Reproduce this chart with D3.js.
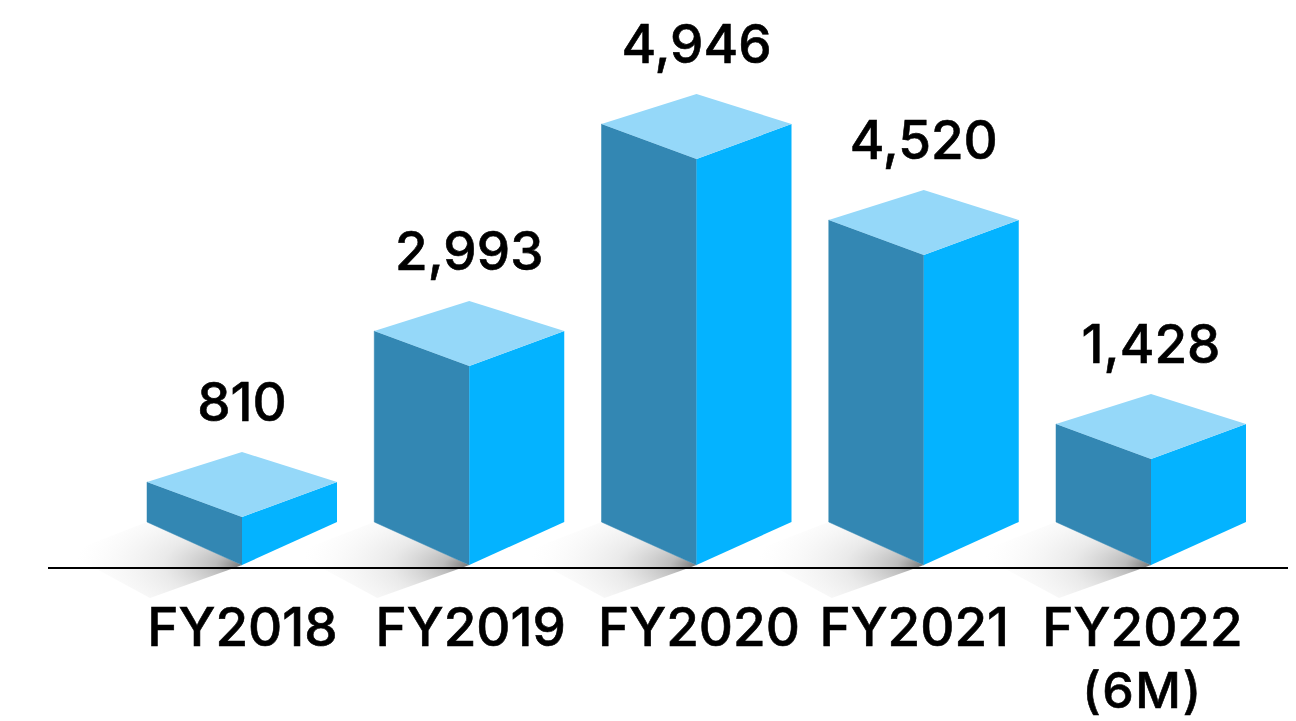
<!DOCTYPE html>
<html>
<head>
<meta charset="utf-8">
<style>
  html, body { margin: 0; padding: 0; background: #fff; }
  text { font-family: Inter, "Open Sans", sans-serif; fill: #000; }
</style>
<script src="https://cdn.jsdelivr.net/npm/d3@7"></script>
</head>
<body>
<div id="chart"></div>
<script>
// Data
const categories = ['FY2018', 'FY2019', 'FY2020', 'FY2021', 'FY2022'];
const subLabels = ['', '', '', '', '(6M)'];
const values = [810, 2993, 4946, 4520, 1428];
const valueLabels = ['810', '2,993', '4,946', '4,520', '1,428'];

const width = 1296;
const height = 721;
const baseY = 565;   // front bottom corner of every box
const halfW = 95;
const rise = 43;     // side corners sit this far above the front corner
const topDepth = 30; // back corner of the lid above the side corners

const svg = d3.select('#chart')
  .append('svg')
  .attr('width', width)
  .attr('height', height)
  .style('display', 'block');

const x = d3.scalePoint()
  .domain(categories)
  .range([242, 1151]);

// The drawn bars are not proportional in the source, so the scale has knots
const y = d3.scaleLinear()
  .domain([0, 810, 1428, 2993, 4520, 4946])
  .range([baseY, 517, 459, 366, 255, 159]);

const points = arr => arr.map(p => p.join(',')).join(' ');

// Shadow gradient, darkest right at the front corner of the box
const defs = svg.append('defs');
const grad = defs.append('radialGradient')
  .attr('id', 'shadow')
  .attr('cx', 1).attr('cy', 0.57)
  .attr('fx', 1).attr('fy', 0.57)
  .attr('r', 1);
grad.append('stop').attr('offset', 0).attr('stop-color', '#707070').attr('stop-opacity', 0.95);
grad.append('stop').attr('offset', 0.15).attr('stop-color', '#a0a0a0').attr('stop-opacity', 0.7);
grad.append('stop').attr('offset', 0.45).attr('stop-color', '#d0d0d0').attr('stop-opacity', 0.45);
grad.append('stop').attr('offset', 0.95).attr('stop-color', '#f0f0f0').attr('stop-opacity', 0);

const box = svg.append('g')
  .selectAll('g')
  .data(categories.map((c, i) => ({ cat: c, value: values[i], label: valueLabels[i] })))
  .enter().append('g');

// Floor shadow
box.append('polygon')
  .attr('fill', 'url(#shadow)')
  .attr('points', d => {
    const c = x(d.cat);
    return points([[c - halfW, baseY - rise], [c, baseY], [c - 8, baseY + 3], [c - 92, baseY + 33], [c - 175, baseY - 12]]);
  });

// Left face
box.append('polygon')
  .attr('fill', '#3387b3')
  .attr('stroke', '#3387b3')
  .attr('stroke-width', 0.5)
  .attr('points', d => {
    const c = x(d.cat), t = y(d.value);
    return points([[c - halfW, t - 35], [c, t], [c, baseY], [c - halfW, baseY - rise]]);
  });

// Right face
box.append('polygon')
  .attr('fill', '#04b3ff')
  .attr('points', d => {
    const c = x(d.cat), t = y(d.value);
    return points([[c, t], [c + halfW, t - 35], [c + halfW, baseY - rise], [c, baseY]]);
  });

// Lid
box.append('polygon')
  .attr('fill', '#95d8f9')
  .attr('points', d => {
    const c = x(d.cat), t = y(d.value);
    return points([[c, t], [c + halfW, t - 35], [c, t - 35 - topDepth], [c - halfW, t - 35]]);
  });

// Value labels
box.append('text')
  .attr('x', d => x(d.cat))
  .attr('y', d => y(d.value) - 96)
  .attr('text-anchor', 'middle')
  .attr('font-size', 53)
  .attr('font-weight', 500)
  .attr('stroke', '#000')
  .attr('stroke-width', 0.6)
  .text(d => d.label);

// Axis line
svg.append('line')
  .attr('x1', 48).attr('x2', 1288)
  .attr('y1', 568).attr('y2', 568)
  .attr('stroke', '#000')
  .attr('stroke-width', 2);

// Category labels, the source has them slightly off centre
const labelShift = [0, 1, 2, -10, -9];
const axis = svg.append('g')
  .attr('transform', 'translate(0,568)')
  .call(d3.axisBottom(x).tickSize(0).tickPadding(0));
axis.select('.domain').remove();
axis.selectAll('.tick text')
  .attr('font-size', 53)
  .attr('font-weight', 500)
  .attr('font-family', 'Inter, "Open Sans", sans-serif')
  .attr('fill', '#000')
  .attr('stroke', '#000')
  .attr('stroke-width', 0.6)
  .attr('text-anchor', 'middle')
  .attr('dy', null)
  .attr('x', (d, i) => labelShift[i])
  .attr('y', 78);
axis.selectAll('.tick')
  .filter((d, i) => subLabels[i] !== '')
  .append('text')
  .attr('font-size', 50)
  .attr('font-weight', 500)
  .attr('font-family', 'Inter, "Open Sans", sans-serif')
  .attr('fill', '#000')
  .attr('stroke', '#000')
  .attr('stroke-width', 0.6)
  .attr('letter-spacing', 1.5)
  .attr('text-anchor', 'middle')
  .attr('x', -9)
  .attr('y', 140)
  .text((d) => subLabels[categories.indexOf(d)]);
</script>
</body>
</html>
